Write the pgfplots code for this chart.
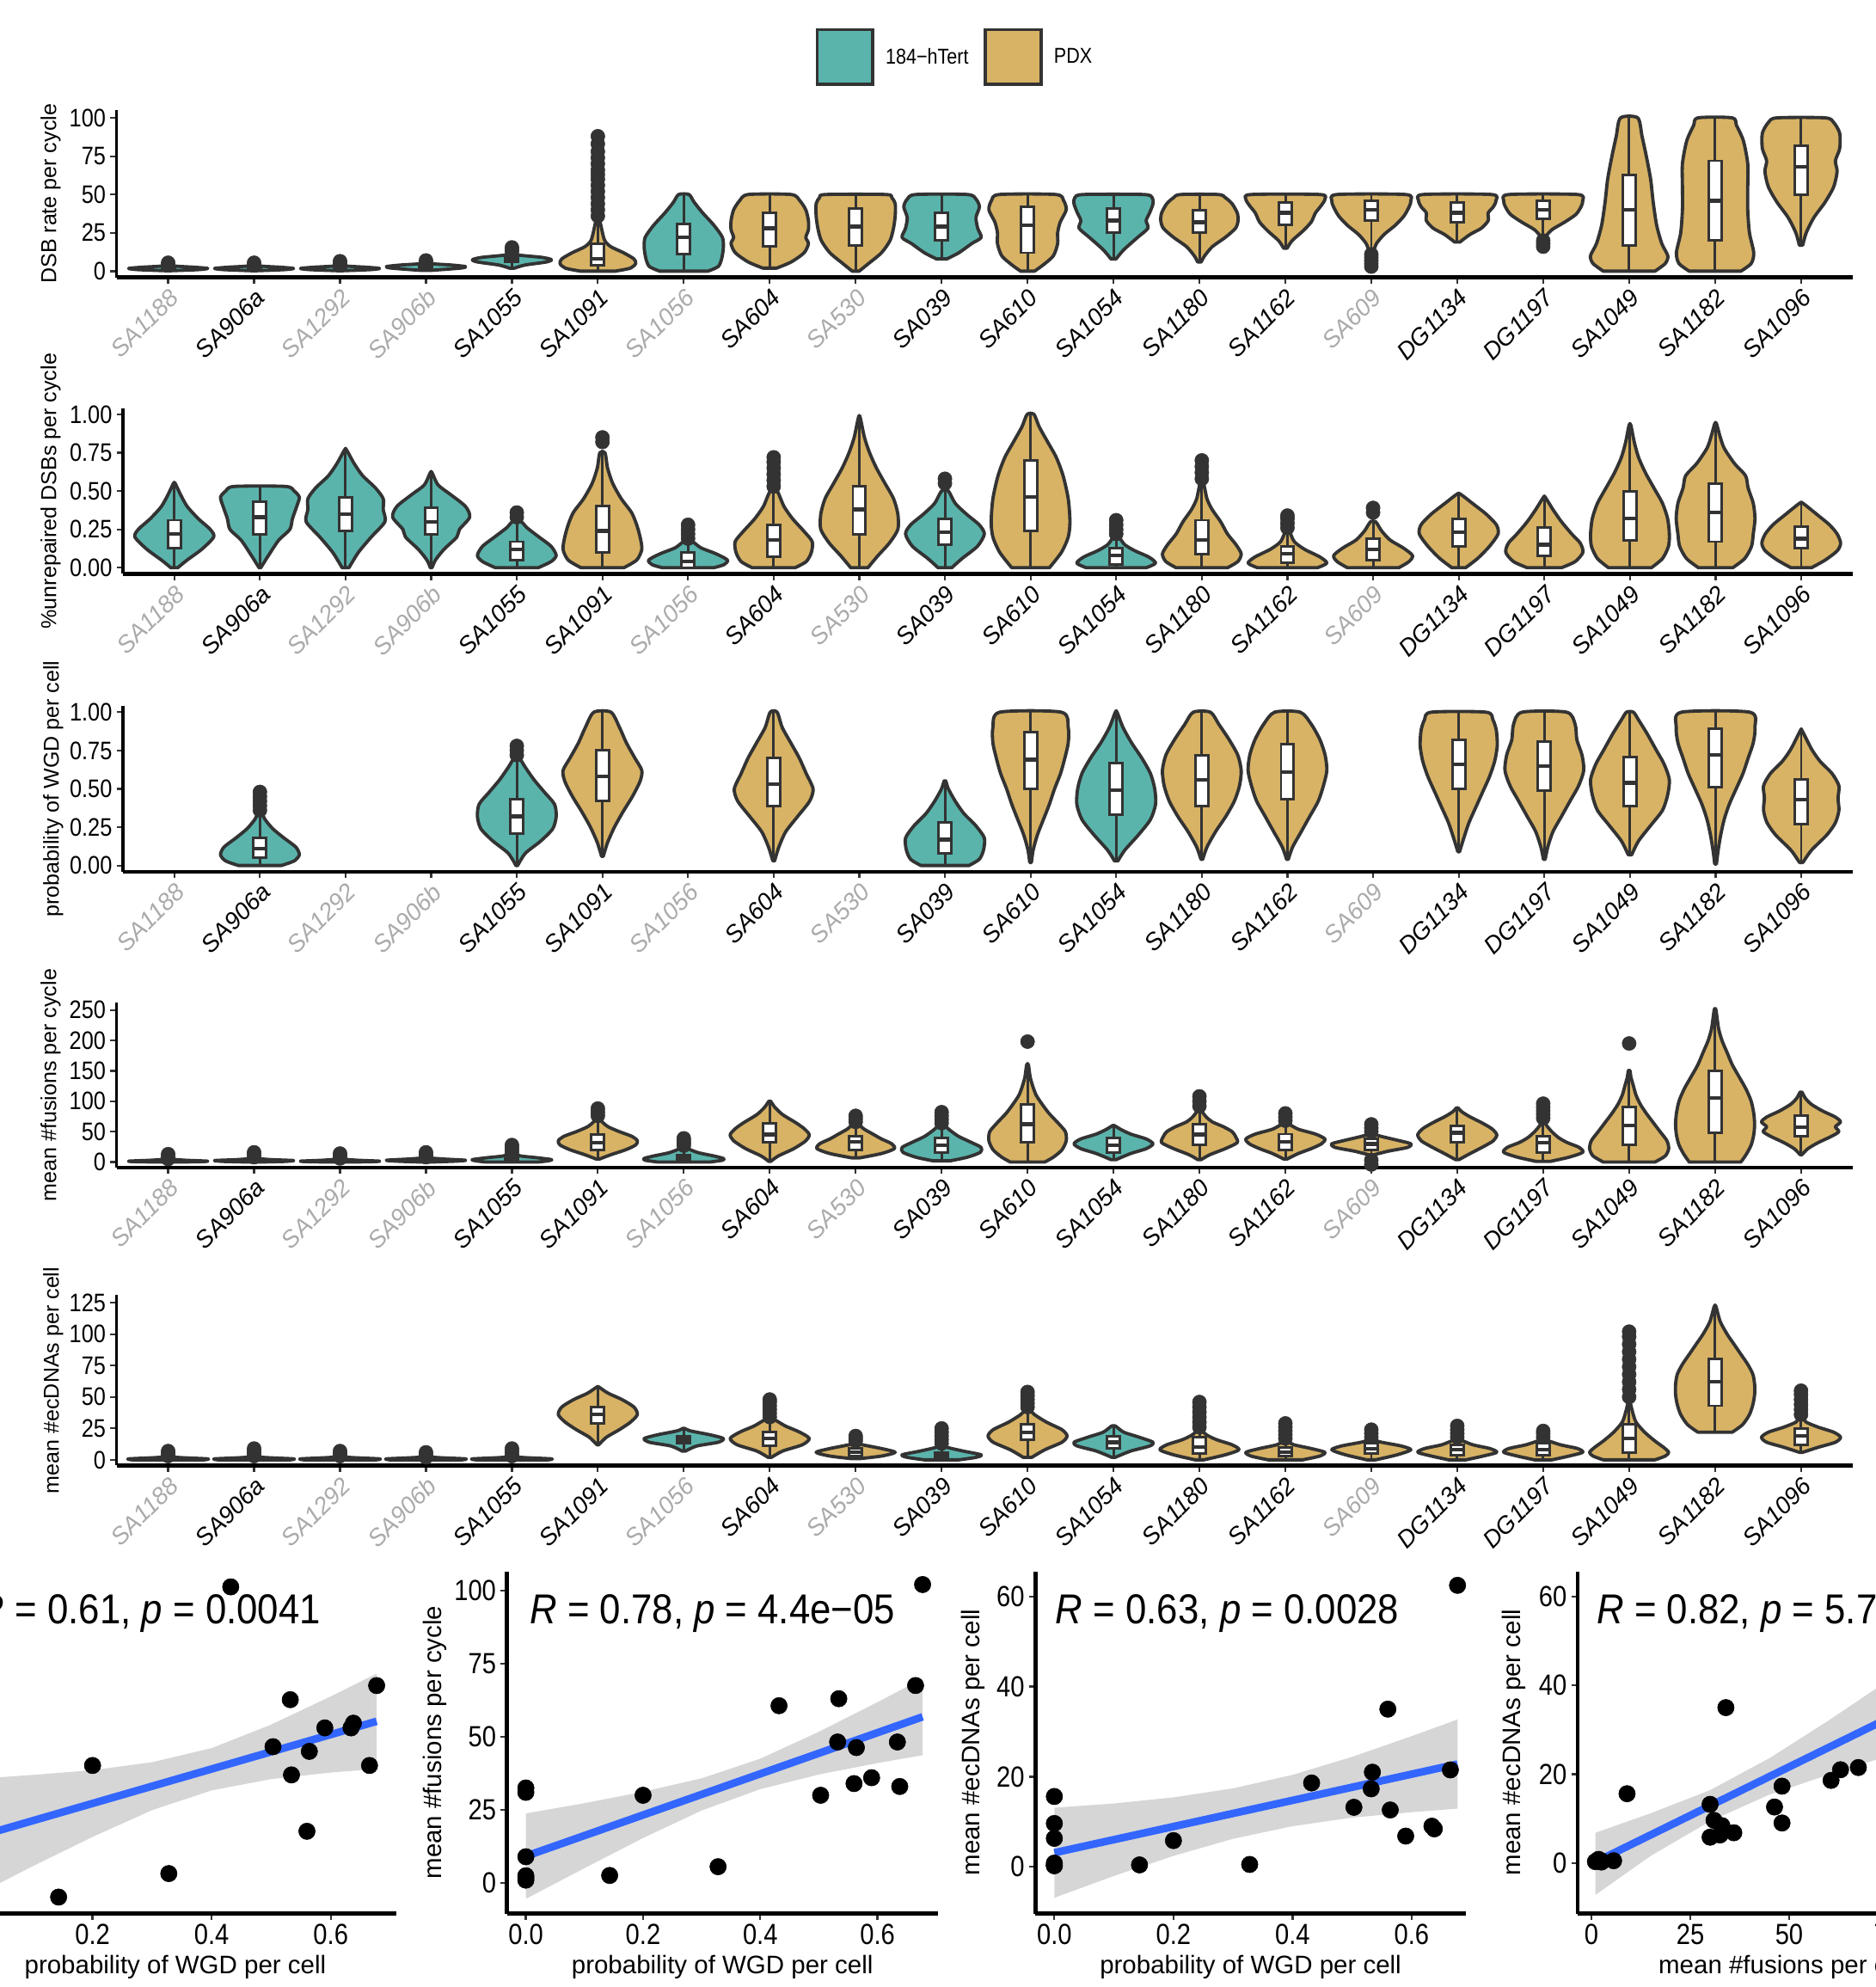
\documentclass[border=0pt]{standalone}
\usepackage{pgfplots}
\pgfplotsset{compat=1.18}
\usepackage{pgfplotstable}
\usepackage{fontspec}
\setmainfont{Liberation Sans}
\newfontfamily\cnd[FakeStretch=0.86]{Liberation Sans}
\newfontfamily\cndr[FakeStretch=0.9]{Liberation Sans}
\definecolor{cT}{HTML}{5AB4AC}
\definecolor{cP}{HTML}{D8B365}
\definecolor{vdark}{HTML}{333333}
\definecolor{lgray}{HTML}{AAAAAA}
\definecolor{sblue}{HTML}{3366FF}
\newcommand\catfont{\fontsize{19}{21}\selectfont\itshape}
\newcommand\vtickfont{\cnd\fontsize{20}{22}\selectfont}
\newcommand\vlabfont{\fontsize{17}{19}\selectfont}
\newcommand\legfont{\cnd\fontsize{17}{19}\selectfont}
\newcommand\stickfont{\cnd\fontsize{23}{25}\selectfont}
\newcommand\slabfont{\fontsize{20}{22}\selectfont}
\newcommand\rfont{\cndr\fontsize{33}{36}\selectfont}

\pgfplotsset{
  /pgf/number format/assume math mode=true,
  vio/.style={smooth, tension=0.45, draw=vdark, line width=2.6pt, line join=round, forget plot},
  whisk/.style={draw=vdark, line width=2pt, forget plot},
  boxst/.style={draw=vdark, fill=white, line width=2pt, forget plot},
  medst/.style={draw=vdark, line width=3pt, forget plot},
  outl/.style={only marks, mark=*, mark size=5.5pt, mark options={draw=vdark, fill=vdark}, forget plot},
  vrow/.style={
    scale only axis, clip=false, xmin=0.4, xmax=20.6,
    axis lines*=left, axis line style={-},
    x axis line style={line width=3pt, black},
    y axis line style={line width=2.2pt, black},
    tick align=outside, major tick length=5pt,
    tick style={draw=vdark, line width=1.5pt},
    xtick={1,...,20},
    xticklabels={\textcolor{lgray}{SA1188},SA906a,\textcolor{lgray}{SA1292},\textcolor{lgray}{SA906b},SA1055,SA1091,\textcolor{lgray}{SA1056},SA604,\textcolor{lgray}{SA530},SA039,SA610,SA1054,SA1180,SA1162,\textcolor{lgray}{SA609},DG1134,DG1197,SA1049,SA1182,SA1096},
    xticklabel style={font=\catfont, rotate=45, anchor=north east, inner sep=2pt},
    yticklabel style={font=\vtickfont},
    ylabel style={font=\vlabfont, at={(axis description cs:0,0.5)}, anchor=center},
  },
  srow/.style={
    scale only axis, clip=false, height=270pt,
    axis lines*=left, axis line style={-, line width=3.2pt, black},
    tick align=outside, major tick length=5pt,
    tick style={draw=vdark, line width=1.6pt},
    ticklabel style={font=\stickfont},
    xlabel style={font=\slabfont, at={(axis description cs:0.5,0)}, anchor=center, yshift=-42pt},
    ylabel style={font=\slabfont, at={(axis description cs:0,0.5)}, anchor=center},
  },
  wgdx/.style={xtick={0,0.2,0.4,0.6}, xticklabel style={/pgf/number format/.cd, fixed, fixed zerofill, precision=1}},
}

\newcommand\vio[5]{%
  \gdef\vR{}\gdef\vL{}\gdef\vO{}%
  \foreach \yy/\ww [count=\n] in {#3}{%
    \pgfmathsetmacro\xr{#1+\ww}%
    \pgfmathsetmacro\xl{#1-\ww}%
    \xdef\vR{\vR(\xr,\yy)}%
    \xdef\vL{(\xl,\yy)\vL}%
    \ifnum\n=1 \xdef\vlo{\yy}\fi
    \xdef\vhi{\yy}%
  }%
  \edef\tmp{\noexpand\addplot[vio,fill=#2] coordinates {\vR\vL} -- cycle;}\tmp
  \edef\tmp{\noexpand\addplot[whisk] coordinates {(#1,\vlo) (#1,\vhi)};}\tmp
  \vbx{#1}#4\relax
  \if\relax\detokenize{#5}\relax\else
    \foreach \o in {#5}{\xdef\vO{\vO(#1,\o)}}%
    \edef\tmp{\noexpand\addplot[outl] coordinates {\vO};}\tmp
  \fi
}
\def\vbx#1#2/#3/#4\relax{%
  \pgfmathsetmacro\bl{#1-0.075}\pgfmathsetmacro\br{#1+0.075}%
  \edef\tmp{\noexpand\addplot[boxst] coordinates {(\bl,#2)(\br,#2)(\br,#4)(\bl,#4)} -- cycle;}\tmp
  \edef\tmp{\noexpand\addplot[medst] coordinates {(\bl,#3)(\br,#3)};}\tmp
}

\pgfplotstableread{
name wgd dsb fus ecd
SA1188 0 2 1.0 0.3
SA906a 0.143 2 2.6 0.4
SA1292 0 2 1.8 0.8
SA906b 0 3 2.5 0.2
SA1055 0.328 7 5.6 0.5
SA1091 0.56 16 34 35
SA1056 0 22 9 15.6
SA604 0.534 28 63 21
SA530 0 29 32.5 6.3
SA039 0.2 30 30 5.8
SA610 0.665 30 67.5 21.5
SA1054 0.503 34 30 13.2
SA1180 0.564 33 46.3 12.6
SA1162 0.59 38 36 6.8
SA609 0 39 31 9.6
DG1134 0.634 38 48.2 9.0
DG1197 0.638 39 33 8.4
SA1049 0.532 44 48.2 17.3
SA1182 0.677 47 102 62.5
SA1096 0.432 68 60.6 18.6
}\samples

\begin{document}
\begin{tikzpicture}
\path[use as bounding box] (0pt,0pt) rectangle (1480pt,-1568pt);

% ---------------- Row 1: DSB rate
\begin{axis}[vrow, at={(92pt,-218.84pt)}, anchor=south west, width=1370pt, height=131.89pt,
  ymin=-4, ymax=105, ytick={0,25,50,75,100}, ylabel={DSB rate per cycle}, ylabel style={yshift=52pt},
  legend style={at={(0.483,1.318)}, anchor=center, draw=none, fill=none, legend columns=2, font=\legfont,
    /tikz/every odd column/.append style={column sep=7pt},
    /tikz/every even column/.append style={column sep=10pt}}]
\addlegendimage{legend image code/.code={\draw[vdark, line width=2.4pt, fill=cT] (0pt,-21.5pt) rectangle (44pt,21.5pt);}}
\addlegendentry{184−hTert}
\addlegendimage{legend image code/.code={\draw[vdark, line width=2.4pt, fill=cP] (0pt,-21.5pt) rectangle (44pt,21.5pt);}}
\addlegendentry{PDX}
\vio{1}{cT}{0.3/0.03,1/0.35,1.8/0.46,2.6/0.3,3.5/0.06,6/0.01}{1/1.8/2.5}{4,5.5}
\vio{2}{cT}{0.3/0.03,1/0.35,1.8/0.46,2.6/0.3,3.5/0.06,6/0.01}{1/1.8/2.5}{4,5.5}
\vio{3}{cT}{0.3/0.03,1/0.35,1.8/0.46,2.6/0.3,3.5/0.06,6/0.01}{1/1.8/2.5}{4,5.5,6.5}
\vio{4}{cT}{0.5/0.05,2/0.4,3/0.46,4/0.3,5/0.05,7/0.01}{2/3/4}{5.5,7}
\vio{5}{cT}{2/0.03,4/0.15,6/0.4,7.5/0.46,9/0.35,10.5/0.08,12/0.02}{6/7.5/9}{12.5,14,15.5}
\vio{6}{cP}{0/0.2,2/0.38,5/0.44,8/0.42,12/0.3,16/0.15,20/0.08,26/0.05,33/0.02}{4/8/18}{36,40,44,48,52,56,60,63,66,70,74,78,83,88}
\vio{7}{cT}{0/0.28,3/0.4,8/0.44,15/0.46,22/0.45,30/0.35,38/0.22,45/0.12,50/0.06}{11/22/31}{}
\vio{8}{cP}{2/0.08,6/0.25,12/0.4,18/0.45,22/0.42,27/0.45,33/0.45,40/0.42,46/0.35,50/0.25}{16/28/38}{}
\vio{9}{cP}{0/0.04,5/0.15,12/0.3,20/0.4,28/0.44,36/0.46,44/0.46,48/0.42,50/0.35}{17/29/41}{}
\vio{10}{cT}{8/0.06,12/0.2,18/0.35,22/0.46,28/0.42,35/0.4,42/0.44,47/0.4,50/0.3}{20/29/38}{}
\vio{11}{cP}{0/0.08,4/0.18,10/0.3,18/0.35,25/0.35,32/0.38,40/0.45,46/0.42,50/0.33}{12/30/42}{}
\vio{12}{cT}{8/0.03,14/0.12,22/0.28,28/0.4,33/0.38,38/0.42,44/0.46,48/0.45,50/0.35}{25/33/41}{}
\vio{13}{cP}{6/0.02,10/0.06,16/0.15,22/0.3,28/0.42,33/0.45,38/0.44,44/0.38,48/0.3,50/0.22}{25/32/40}{}
\vio{14}{cP}{15/0.02,20/0.08,26/0.2,32/0.3,38/0.35,43/0.42,47/0.46,50/0.4}{30/38/45}{}
\vio{15}{cP}{12/0.02,18/0.06,24/0.15,30/0.28,36/0.38,42/0.44,46/0.46,50/0.4}{33/40/46}{3,5,7,9,11}
\vio{16}{cP}{19/0.03,24/0.15,28/0.28,33/0.36,38/0.36,42/0.42,46/0.45,50/0.4}{32/38/45}{}
\vio{17}{cP}{22/0.02,27/0.1,32/0.25,37/0.38,42/0.44,46/0.46,50/0.4}{34/40/46}{16,18,20}
\vio{18}{cP}{0/0.3,5/0.42,10/0.45,18/0.38,30/0.32,45/0.28,60/0.25,75/0.2,88/0.15,100/0.1}{17/40/63}{}
\vio{19}{cP}{0/0.3,5/0.42,12/0.45,25/0.4,40/0.38,55/0.38,70/0.38,85/0.33,95/0.25,100/0.2}{20/46/72}{}
\vio{20}{cP}{17/0.02,25/0.06,35/0.15,45/0.28,55/0.38,65/0.42,72/0.4,80/0.45,90/0.45,97/0.38,100/0.28}{50/68/82}{}
\end{axis}

% ---------------- Row 2: unrepaired
\begin{axis}[vrow, at={(97pt,-452.84pt)}, anchor=south west, width=1365pt, height=130.68pt,
  ymin=-0.04, ymax=1.04, ytick={0,0.25,0.5,0.75,1}, yticklabel style={/pgf/number format/.cd, fixed, fixed zerofill, precision=2},
  ylabel={\%unrepaired DSBs per cycle}, ylabel style={yshift=57pt}]
\vio{1}{cT}{0/0.04,0.05/0.15,0.12/0.32,0.2/0.46,0.25/0.42,0.32/0.28,0.4/0.15,0.48/0.07,0.55/0.01}{0.13/0.22/0.31}{}
\vio{2}{cT}{0/0.01,0.08/0.1,0.18/0.22,0.25/0.35,0.32/0.38,0.4/0.43,0.46/0.46,0.5/0.4,0.53/0.3}{0.22/0.33/0.43}{}
\vio{3}{cT}{0/0.04,0.1/0.15,0.2/0.3,0.3/0.46,0.38/0.44,0.45/0.44,0.52/0.35,0.6/0.2,0.68/0.1,0.77/0.01}{0.24/0.35/0.46}{}
\vio{4}{cT}{0/0.01,0.05/0.05,0.12/0.15,0.2/0.3,0.25/0.33,0.33/0.45,0.4/0.4,0.48/0.22,0.54/0.08,0.62/0.01}{0.22/0.3/0.39}{}
\vio{5}{cT}{0/0.25,0.04/0.4,0.08/0.46,0.14/0.4,0.2/0.26,0.26/0.12,0.3/0.05}{0.05/0.12/0.17}{0.33,0.36}
\vio{6}{cP}{0/0.25,0.05/0.4,0.12/0.46,0.2/0.44,0.28/0.4,0.36/0.34,0.45/0.22,0.55/0.12,0.65/0.06,0.75/0.03}{0.1/0.24/0.4}{0.82,0.85}
\vio{7}{cT}{0/0.3,0.02/0.42,0.05/0.46,0.09/0.33,0.13/0.15,0.17/0.05}{0/0.04/0.1}{0.19,0.22,0.25,0.28}
\vio{8}{cP}{0/0.25,0.04/0.38,0.1/0.44,0.17/0.45,0.24/0.35,0.32/0.22,0.4/0.12,0.5/0.04}{0.07/0.18/0.28}{0.53,0.57,0.61,0.65,0.69,0.72}
\vio{9}{cP}{0/0.1,0.08/0.22,0.16/0.35,0.25/0.45,0.35/0.45,0.45/0.4,0.55/0.3,0.65/0.2,0.75/0.12,0.85/0.06,0.98/0.01}{0.22/0.38/0.53}{}
\vio{10}{cT}{0/0.08,0.06/0.2,0.14/0.38,0.22/0.46,0.28/0.4,0.35/0.25,0.42/0.12,0.5/0.04}{0.15/0.23/0.32}{0.55,0.58}
\vio{11}{cP}{0/0.22,0.1/0.36,0.2/0.44,0.3/0.46,0.45/0.44,0.6/0.38,0.72/0.3,0.82/0.2,0.92/0.1,1/0.04}{0.24/0.46/0.7}{}
\vio{12}{cT}{0/0.35,0.03/0.46,0.07/0.38,0.11/0.22,0.15/0.1,0.2/0.03}{0.02/0.08/0.13}{0.22,0.25,0.28,0.31}
\vio{13}{cP}{0/0.3,0.04/0.42,0.09/0.46,0.15/0.4,0.22/0.3,0.3/0.22,0.38/0.12,0.45/0.06,0.55/0.02}{0.09/0.18/0.31}{0.58,0.62,0.66,0.7}
\vio{14}{cP}{0/0.35,0.03/0.46,0.07/0.38,0.12/0.2,0.17/0.08,0.24/0.02}{0.03/0.09/0.14}{0.26,0.29,0.32,0.34}
\vio{15}{cP}{0/0.3,0.04/0.42,0.08/0.46,0.13/0.35,0.18/0.2,0.24/0.1,0.3/0.03}{0.05/0.12/0.19}{0.36,0.39}
\vio{16}{cP}{0/0.08,0.06/0.22,0.14/0.36,0.22/0.46,0.28/0.44,0.35/0.32,0.42/0.16,0.48/0.02}{0.14/0.23/0.32}{}
\vio{17}{cP}{0/0.2,0.04/0.36,0.1/0.45,0.16/0.42,0.22/0.32,0.3/0.2,0.38/0.1,0.46/0.01}{0.08/0.15/0.26}{}
\vio{18}{cP}{0/0.25,0.06/0.38,0.14/0.45,0.22/0.46,0.32/0.44,0.42/0.38,0.52/0.28,0.62/0.18,0.72/0.1,0.82/0.05,0.93/0.01}{0.18/0.32/0.5}{}
\vio{19}{cP}{0/0.2,0.06/0.34,0.14/0.42,0.22/0.44,0.32/0.46,0.42/0.44,0.52/0.38,0.6/0.35,0.68/0.22,0.78/0.1,0.86/0.05,0.94/0.01}{0.17/0.36/0.55}{}
\vio{20}{cP}{0/0.12,0.05/0.28,0.11/0.42,0.16/0.46,0.22/0.42,0.28/0.33,0.34/0.2,0.42/0.02}{0.13/0.19/0.27}{}
\end{axis}

% ---------------- Row 3: WGD
\begin{axis}[vrow, at={(97pt,-687.84pt)}, anchor=south west, width=1365pt, height=130.68pt,
  ymin=-0.04, ymax=1.04, ytick={0,0.25,0.5,0.75,1}, yticklabel style={/pgf/number format/.cd, fixed, fixed zerofill, precision=2},
  ylabel={probability of WGD per cell}, ylabel style={yshift=55pt}]
\vio{2}{cT}{0/0.25,0.03/0.4,0.07/0.46,0.12/0.42,0.18/0.28,0.24/0.15,0.3/0.06,0.34/0.02}{0.05/0.11/0.18}{0.36,0.39,0.42,0.45,0.48}
\vio{5}{cT}{0/0.01,0.08/0.1,0.16/0.28,0.24/0.42,0.32/0.46,0.4/0.44,0.48/0.32,0.56/0.2,0.64/0.1,0.7/0.03}{0.21/0.32/0.43}{0.72,0.75,0.78}
\vio{6}{cP}{0.06/0.01,0.15/0.06,0.25/0.14,0.35/0.24,0.45/0.35,0.55/0.44,0.62/0.46,0.7/0.38,0.8/0.28,0.9/0.2,1/0.1}{0.42/0.58/0.75}{}
\vio{8}{cP}{0.03/0.01,0.12/0.06,0.22/0.14,0.32/0.28,0.42/0.42,0.5/0.46,0.6/0.38,0.7/0.3,0.8/0.2,0.9/0.1,1/0.04}{0.39/0.53/0.7}{}
\vio{10}{cT}{0/0.28,0.04/0.4,0.1/0.45,0.18/0.46,0.26/0.36,0.34/0.22,0.42/0.12,0.5/0.04,0.55/0.01}{0.08/0.17/0.28}{}
\vio{11}{cP}{0.02/0.01,0.1/0.03,0.2/0.08,0.3/0.15,0.4/0.22,0.5/0.28,0.6/0.35,0.7/0.4,0.8/0.44,0.9/0.44,1/0.36}{0.5/0.69/0.87}{}
\vio{12}{cT}{0.03/0.02,0.1/0.1,0.2/0.26,0.3/0.4,0.4/0.46,0.5/0.45,0.6/0.4,0.7/0.3,0.8/0.18,0.9/0.08,1/0.01}{0.33/0.49/0.67}{}
\vio{13}{cP}{0.04/0.01,0.12/0.06,0.22/0.16,0.32/0.28,0.42/0.38,0.52/0.44,0.62/0.46,0.72/0.42,0.82/0.32,0.92/0.2,1/0.1}{0.39/0.56/0.72}{}
\vio{14}{cP}{0.04/0.01,0.12/0.06,0.22/0.16,0.32/0.26,0.42/0.36,0.52/0.42,0.62/0.46,0.72/0.44,0.82/0.38,0.92/0.28,1/0.15}{0.43/0.61/0.79}{}
\vio{16}{cP}{0.09/0.01,0.18/0.06,0.28/0.12,0.38/0.2,0.48/0.28,0.58/0.36,0.68/0.42,0.78/0.45,0.88/0.44,0.95/0.4,1/0.32}{0.5/0.66/0.82}{}
\vio{17}{cP}{0.04/0.01,0.12/0.04,0.22/0.1,0.32/0.2,0.42/0.3,0.52/0.4,0.62/0.46,0.72/0.44,0.82/0.38,0.92/0.36,1/0.26}{0.49/0.65/0.81}{}
\vio{18}{cP}{0.07/0.02,0.16/0.1,0.26/0.24,0.36/0.38,0.46/0.44,0.56/0.46,0.66/0.4,0.76/0.3,0.86/0.2,0.95/0.1,1/0.04}{0.39/0.54/0.71}{}
\vio{19}{cP}{0.01/0.01,0.1/0.03,0.2/0.06,0.3/0.1,0.4/0.16,0.5/0.24,0.6/0.32,0.7/0.38,0.8/0.44,0.9/0.46,1/0.4}{0.51/0.72/0.89}{}
\vio{20}{cP}{0.02/0.02,0.1/0.12,0.2/0.3,0.28/0.4,0.36/0.44,0.44/0.43,0.52/0.44,0.6/0.36,0.68/0.22,0.76/0.12,0.88/0.01}{0.27/0.43/0.56}{}
\end{axis}

% ---------------- Row 4: fusions
\begin{axis}[vrow, at={(92pt,-921.32pt)}, anchor=south west, width=1370pt, height=130.08pt,
  ymin=-9, ymax=262, ytick={0,50,100,150,200,250},
  ylabel={mean \#fusions per cycle}, ylabel style={yshift=52pt}]
\vio{1}{cT}{0/0.05,0.5/0.35,1.5/0.46,3/0.2,5/0.03,8/0.01}{0.5/1.5/2.5}{5,9,13}
\vio{2}{cT}{0/0.05,1/0.35,2.5/0.46,4/0.2,6/0.03,9/0.01}{1/2.5/4}{8,12,16}
\vio{3}{cT}{0/0.05,0.5/0.35,1.5/0.46,3/0.2,5/0.03,8/0.01}{0.5/1.5/2.5}{6,10,14}
\vio{4}{cT}{0/0.05,1.5/0.35,3/0.46,5/0.2,7/0.03,10/0.01}{1.5/3/4.5}{8,12,16}
\vio{5}{cT}{0/0.3,2/0.42,4/0.46,7/0.3,10/0.1,14/0.03}{2/4/7}{16,20,24,28}
\vio{6}{cP}{5/0.02,12/0.15,20/0.32,28/0.44,35/0.46,42/0.4,50/0.25,58/0.12,66/0.05,72/0.02}{20/32/45}{76,82,88}
\vio{7}{cT}{0/0.3,3/0.45,6/0.46,10/0.35,15/0.18,20/0.08,25/0.02}{2/6/12}{27,31,35,39}
\vio{8}{cP}{1/0.01,10/0.1,22/0.28,35/0.42,45/0.46,55/0.4,65/0.3,78/0.15,90/0.06,100/0.01}{32/45/64}{}
\vio{9}{cP}{7/0.05,14/0.3,22/0.45,30/0.42,38/0.3,46/0.2,54/0.1,62/0.03}{20/33/42}{66,71,76}
\vio{10}{cT}{2/0.1,8/0.3,16/0.45,24/0.46,32/0.35,42/0.2,52/0.1,60/0.03}{15/28/40}{64,70,76,82}
\vio{11}{cP}{0/0.2,8/0.3,20/0.4,35/0.45,50/0.44,65/0.35,80/0.25,95/0.17,110/0.1,125/0.06,140/0.03,160/0.01}{32/62/95}{198}
\vio{12}{cT}{4/0.03,14/0.2,22/0.38,30/0.46,38/0.38,46/0.2,54/0.08,60/0.01}{16/28/40}{}
\vio{13}{cP}{4/0.02,12/0.12,22/0.3,32/0.44,42/0.42,50/0.38,58/0.28,66/0.15,74/0.08,84/0.02}{28/45/62}{92,100,108}
\vio{14}{cP}{5/0.02,14/0.15,22/0.3,30/0.42,38/0.46,46/0.35,54/0.15,62/0.04}{20/33/46}{68,74,80}
\vio{15}{cP}{12/0.03,18/0.2,24/0.42,30/0.46,36/0.3,42/0.12,46/0.02}{20/30/38}{-4,3,50,56,62}
\vio{16}{cP}{4/0.02,14/0.15,25/0.3,35/0.42,45/0.46,55/0.4,65/0.28,75/0.14,83/0.05,89/0.01}{32/48/60}{}
\vio{17}{cP}{1/0.08,8/0.3,16/0.46,24/0.42,32/0.28,40/0.18,50/0.1,60/0.04,68/0.01}{16/32/43}{72,78,84,90,96}
\vio{18}{cP}{0/0.3,10/0.42,22/0.46,35/0.44,50/0.36,65/0.28,80/0.2,95/0.13,110/0.08,125/0.05,140/0.02,150/0.01}{28/60/90}{195}
\vio{19}{cP}{0/0.3,12/0.36,28/0.42,45/0.45,62/0.46,80/0.45,100/0.42,120/0.36,140/0.28,160/0.2,180/0.14,200/0.08,220/0.04,250/0.01}{48/105/150}{}
\vio{20}{cP}{12/0.01,22/0.08,32/0.2,42/0.35,50/0.44,58/0.4,66/0.46,74/0.4,84/0.25,95/0.12,105/0.05,115/0.01}{42/57/76}{}
\end{axis}

% ---------------- Row 5: ecDNA
\begin{axis}[vrow, at={(92pt,-1156.46pt)}, anchor=south west, width=1370pt, height=134.42pt,
  ymin=-4.5, ymax=131, ytick={0,25,50,75,100,125},
  ylabel={mean \#ecDNAs per cell}, ylabel style={yshift=50pt}]
\vio{1}{cT}{0/0.42,0.8/0.46,2/0.1,4/0.02}{0/0.5/1}{3,5,7}
\vio{2}{cT}{0/0.42,0.8/0.46,2/0.1,4/0.02}{0/0.5/1}{3,5,7,9}
\vio{3}{cT}{0/0.42,0.8/0.46,2/0.1,4/0.02}{0/0.5/1}{3,5,7}
\vio{4}{cT}{0/0.42,0.8/0.46,2/0.1,4/0.02}{0/0.5/1}{2,4,6}
\vio{5}{cT}{0/0.42,0.8/0.46,2/0.1,4/0.02}{0/0.5/1}{3,5,7,9}
\vio{6}{cP}{12/0.01,18/0.1,24/0.25,30/0.38,36/0.46,42/0.42,48/0.28,53/0.12,58/0.01}{29/36/42}{}
\vio{7}{cT}{7/0.02,11/0.15,14/0.4,17/0.46,20/0.3,23/0.08,25/0.01}{13/16/19}{}
\vio{8}{cP}{2/0.02,7/0.15,12/0.38,17/0.46,22/0.35,27/0.18,32/0.05}{11/17/22}{34,37,40,43,46,48}
\vio{9}{cP}{1/0.05,3/0.3,6/0.46,9/0.3,12/0.08,14/0.01}{3/6/9}{15,17,19}
\vio{10}{cT}{0/0.2,2/0.4,4/0.46,7/0.25,10/0.06,12/0.01}{1/3/6}{13,16,19,22,25}
\vio{11}{cP}{2/0.05,8/0.2,14/0.4,19/0.46,24/0.4,30/0.22,36/0.08,40/0.02}{16/22/28}{42,45,48,51,54}
\vio{12}{cT}{2/0.02,7/0.2,11/0.42,14/0.46,18/0.3,22/0.12,27/0.02}{9/14/19}{}
\vio{13}{cP}{0/0.05,4/0.3,8/0.46,12/0.38,16/0.2,20/0.08,24/0.02}{5/10/18}{26,30,34,38,42,46}
\vio{14}{cP}{0/0.2,3/0.4,6/0.46,9/0.3,12/0.1,15/0.02}{3/6/10}{17,20,23,26,29}
\vio{15}{cP}{0/0.05,4/0.3,8/0.46,11/0.35,14/0.12,16/0.02}{5/9/13}{18,21,24}
\vio{16}{cP}{0/0.1,3/0.3,6/0.46,9/0.38,12/0.18,16/0.03}{4/8/12}{18,21,24,27}
\vio{17}{cP}{0/0.1,3/0.3,6/0.46,9/0.4,12/0.2,16/0.02}{4/8/13}{18,21,23}
\vio{18}{cP}{0/0.3,3/0.42,6/0.46,10/0.4,15/0.3,22/0.18,30/0.08,38/0.04,46/0.01}{6/17/28}{50,56,62,68,74,80,86,92,98,102}
\vio{19}{cP}{22/0.2,28/0.32,36/0.4,44/0.44,52/0.46,60/0.46,68/0.44,76/0.38,84/0.3,92/0.22,100/0.14,110/0.06,122/0.01}{43/62/80}{}
\vio{20}{cP}{6/0.02,10/0.2,14/0.4,18/0.46,22/0.38,26/0.2,30/0.06,34/0.01}{12/19/25}{36,40,44,48,52,55}
\end{axis}

% ---------------- Scatter A: DSB vs WGD
\begin{axis}[srow, wgdx, at={(-36pt,-1510pt)}, anchor=south west, width=348.74pt,
  xmin=-0.032, xmax=0.71, ymin=-1.5, ymax=71.3, ytick={0,20,40,60},
  xlabel={probability of WGD per cell}, ylabel={DSB rate per cycle}, ylabel style={yshift=50pt}]
\addplot[only marks, mark=*, mark size=6.5pt, black] table[x=wgd, y=dsb] {\samples};
\addplot[fill=black!40, fill opacity=0.4, draw=none] coordinates {(0,27.1)(0.1,28.0)(0.2,29.0)(0.3,30.7)(0.4,33.7)(0.5,38.7)(0.6,44.7)(0.677,49.55)(0.677,29.25)(0.6,28.5)(0.5,27.1)(0.4,24.7)(0.3,20.5)(0.2,14.8)(0.1,8.6)(0,2.1)} -- cycle;
\addplot[sblue, line width=6pt] coordinates {(0,14.6)(0.677,39.4)};
\node[anchor=west, font=\rfont, inner sep=0pt] at (axis cs:0.0064,62.4) {{\itshape R} = 0.61, {\itshape p} = 0.0041};
\end{axis}

% ---------------- Scatter B: fusions vs WGD
\begin{axis}[srow, wgdx, at={(400pt,-1510pt)}, anchor=south west, width=340.1pt,
  xmin=-0.0324, xmax=0.703, ymin=-10.4, ymax=106.5, ytick={0,25,50,75,100},
  xlabel={probability of WGD per cell}, ylabel={mean \#fusions per cycle}, ylabel style={yshift=57pt}]
\addplot[only marks, mark=*, mark size=6.5pt, black] table[x=wgd, y=fus] {\samples};
\addplot[fill=black!40, fill opacity=0.4, draw=none] coordinates {(0,23.8)(0.1,27.3)(0.2,31.2)(0.3,35.8)(0.4,42.5)(0.5,51.7)(0.6,61.8)(0.677,69.9)(0.677,43.7)(0.6,41.0)(0.5,37.1)(0.4,32.1)(0.3,24.8)(0.2,15.4)(0.1,5.1)(0,-5.4)} -- cycle;
\addplot[sblue, line width=6pt] coordinates {(0,9.2)(0.677,56.8)};
\node[anchor=west, font=\rfont, inner sep=0pt] at (axis cs:0.0065,92.2) {{\itshape R} = 0.78, {\itshape p} = 4.4e−05};
\end{axis}

% ---------------- Scatter C: ecDNA vs WGD
\begin{axis}[srow, wgdx, at={(817pt,-1510pt)}, anchor=south west, width=339.8pt,
  xmin=-0.032, xmax=0.691, ymin=-10.4, ymax=65.6, ytick={0,20,40,60},
  xlabel={probability of WGD per cell}, ylabel={mean \#ecDNAs per cell}, ylabel style={yshift=49pt}]
\addplot[only marks, mark=*, mark size=6.5pt, black] table[x=wgd, y=ecd] {\samples};
\addplot[fill=black!40, fill opacity=0.4, draw=none] coordinates {(0,13.1)(0.1,14.05)(0.2,15.4)(0.3,17.4)(0.4,20.4)(0.5,24.4)(0.6,29.0)(0.677,32.7)(0.677,12.9)(0.6,12.1)(0.5,10.9)(0.4,9.0)(0.3,6.2)(0.2,2.4)(0.1,-2.05)(0,-6.9)} -- cycle;
\addplot[sblue, line width=6pt] coordinates {(0,3.1)(0.677,22.8)};
\node[anchor=west, font=\rfont, inner sep=0pt] at (axis cs:0.002,56.3) {{\itshape R} = 0.63, {\itshape p} = 0.0028};
\end{axis}

% ---------------- Scatter D: ecDNA vs fusions
\begin{axis}[srow, at={(1245pt,-1510pt)}, anchor=south west, width=343.5pt,
  xmin=-3.5, xmax=106.6, ymin=-11.4, ymax=65.7, xtick={0,25,50,75,100}, ytick={0,20,40,60},
  xlabel={mean \#fusions per cycle}, ylabel={mean \#ecDNAs per cell}, ylabel style={yshift=50pt}]
\addplot[only marks, mark=*, mark size=6.5pt, black] table[x=fus, y=ecd] {\samples};
\addplot[fill=black!40, fill opacity=0.4, draw=none] coordinates {(1,6.8)(15,11.2)(30,16.4)(45,23.6)(60,32.1)(75,41.1)(90,50.2)(102,57.6)(102,31.2)(90,28.0)(75,24.1)(60,19.9)(45,15.4)(30,9.4)(15,1.6)(1,-7.2)} -- cycle;
\addplot[sblue, line width=6pt] coordinates {(1,0.2)(102,44.4)};
\node[anchor=west, font=\rfont, inner sep=0pt] at (axis cs:1.3,56.3) {{\itshape R} = 0.82, {\itshape p} = 5.7e−06};
\end{axis}
\end{tikzpicture}
\end{document}
